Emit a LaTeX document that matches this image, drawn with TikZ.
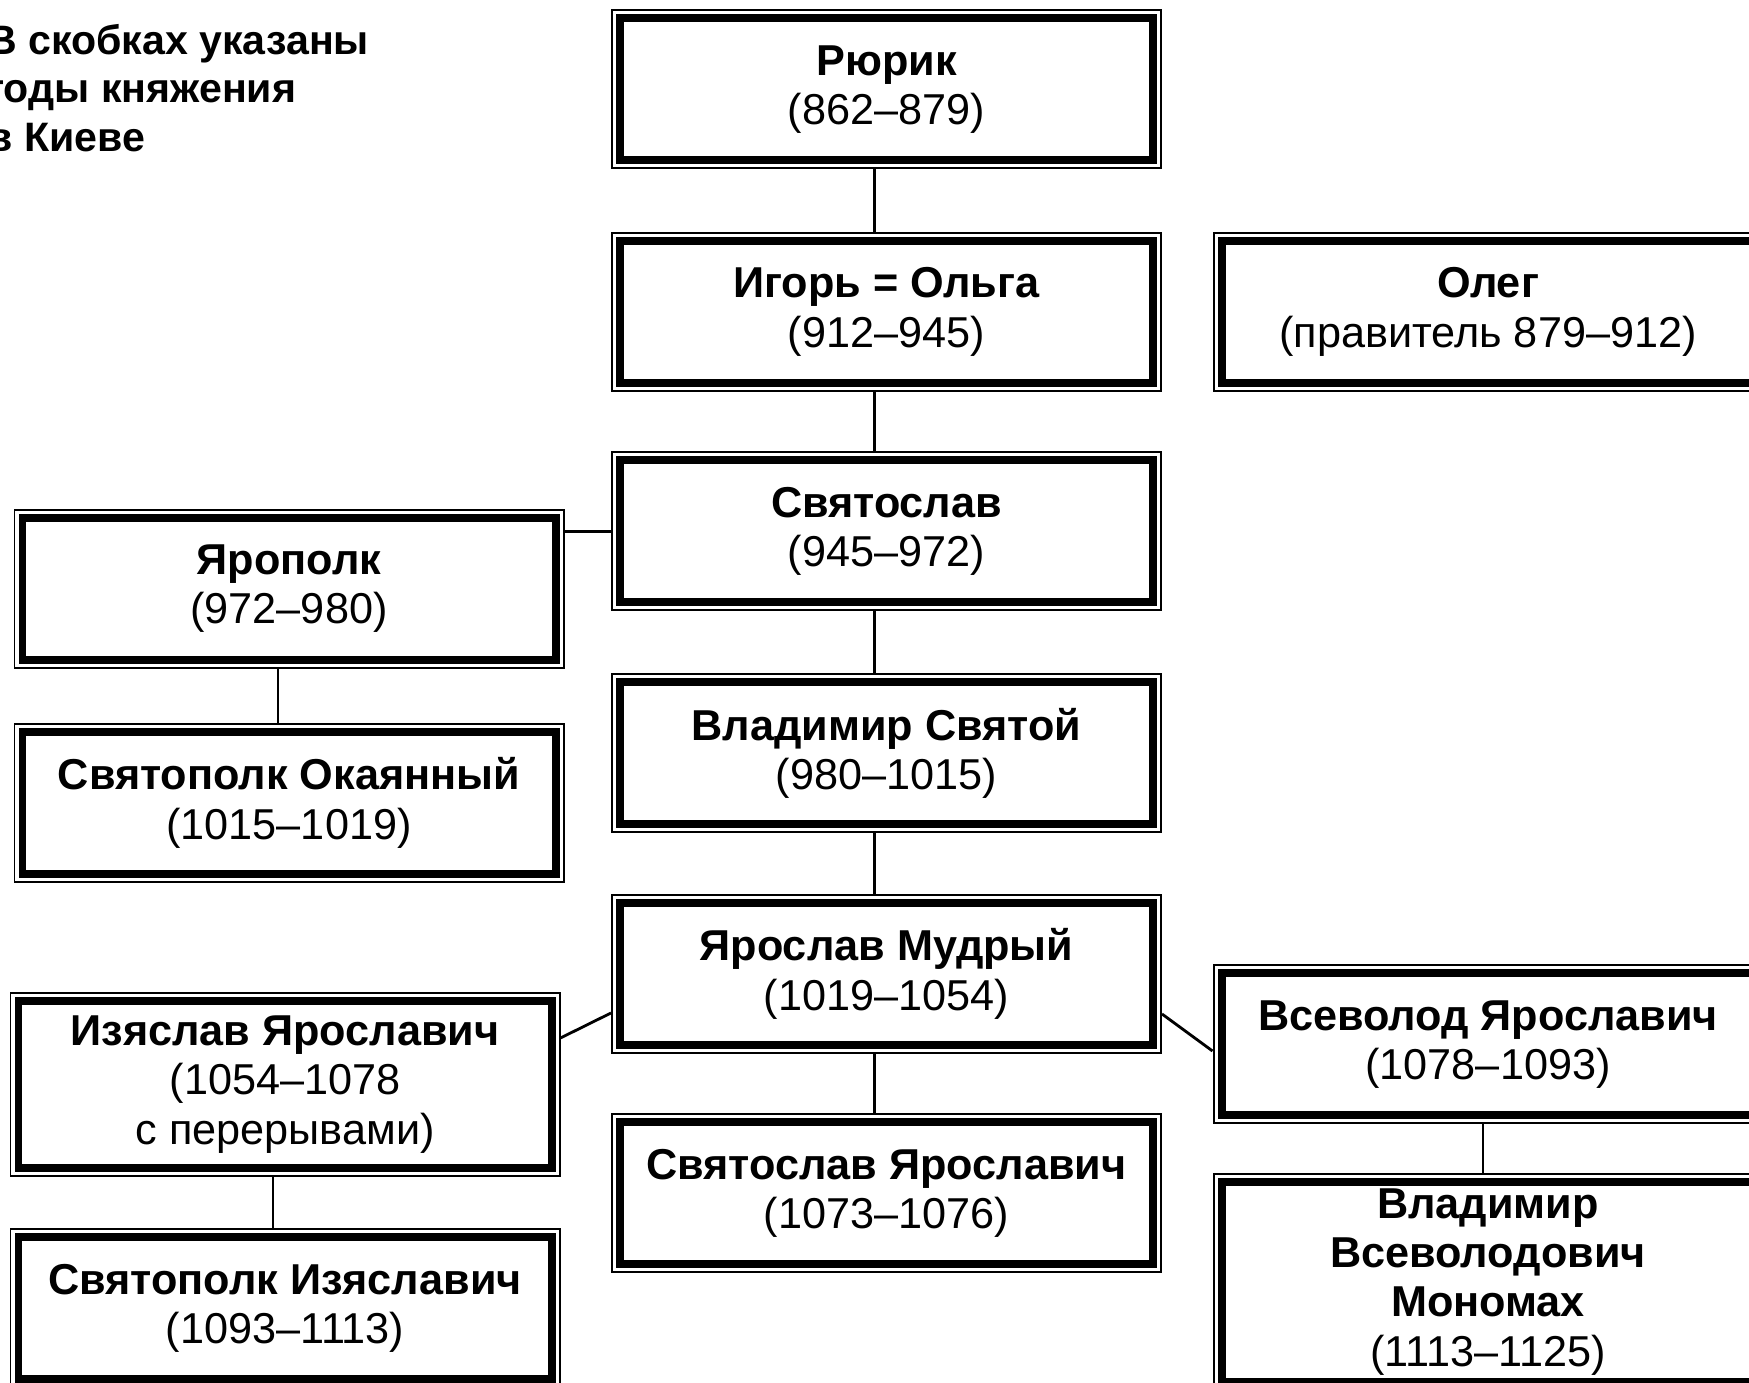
\documentclass[tikz,border=0pt]{standalone}
\usepackage{fontspec}
\setmainfont{Liberation Sans}

\tikzset{
	prince/.style={draw, fill=white, line width=4.55pt, outer sep=0.18cm, inner sep=0pt,
		minimum width=10.66cm, minimum height=2.84cm, align=center,
		font=\fontsize{24.6}{28}\selectfont,
		preaction={draw, line width=10.24pt},
		preaction={draw, white, line width=7.97pt}},
	link/.style={line width=1.6pt}
}

\begin{document}
\begin{tikzpicture}
		\useasboundingbox (0, 0) rectangle (34.98, 27.66);
		
		\node[anchor=north west, align=left, inner sep=0pt, font=\bfseries\fontsize{23.4}{27.6}\selectfont] (note) at (-0.26, 27.18) {В скобках указаны\\годы княжения\\в Киеве};
		
		\node[prince] (rurik) at (17.73, 25.87) {\textbf{Рюрик}\\(862–879)};
		\node[prince] (igor) at (17.73, 21.42) {\textbf{Игорь = Ольга}\\(912–945)};
		\node[prince] (oleg) at (29.76, 21.42) {\textbf{Олег}\\(правитель 879–912)};
		\node[prince] (svyatoslav) at (17.73, 17.03) {\textbf{Святослав}\\(945–972)};
		\node[prince] (yaropolk) at (5.78, 15.88) {\textbf{Ярополк}\\(972–980)};
		\node[prince] (svyatopolkO) at (5.78, 11.60) {\textbf{Святополк Окаянный}\\(1015–1019)};
		\node[prince] (vladimir) at (17.73, 12.59) {\textbf{Владимир Святой}\\(980–1015)};
		\node[prince] (yaroslav) at (17.73, 8.18) {\textbf{Ярослав Мудрый}\\(1019–1054)};
		\node[prince, minimum height=3.34cm] (izyaslav) at (5.70, 5.97) {\textbf{Изяслав Ярославич}\\(1054–1078\\с перерывами)};
		\node[prince] (vsevolod) at (29.76, 6.77) {\textbf{Всеволод Ярославич}\\(1078–1093)};
		\node[prince] (svyatoslavYa) at (17.73, 3.79) {\textbf{Святослав Ярославич}\\(1073–1076)};
		\node[prince] (svyatopolkI) at (5.70, 1.50) {\textbf{Святополк Изяславич}\\(1093–1113)};
		\node[prince, minimum height=4.0cm] (monomakh) at (29.76, 2.02) {\textbf{Владимир}\\\textbf{Всеволодович}\\\textbf{Мономах}\\(1113–1125)};
		
		\draw[link] ([xshift=-0.24cm]rurik.south) -- ([xshift=-0.24cm]igor.north);
		\draw[link] ([xshift=-0.24cm]igor.south) -- ([xshift=-0.24cm]svyatoslav.north);
		\draw[link] ([xshift=-0.24cm]svyatoslav.south) -- ([xshift=-0.24cm]vladimir.north);
		\draw[link] ([xshift=-0.24cm]vladimir.south) -- ([xshift=-0.24cm]yaroslav.north);
		\draw[link] ([xshift=-0.24cm]yaroslav.south) -- ([xshift=-0.24cm]svyatoslavYa.north);
		\draw[link] (svyatoslav.west) -- (svyatoslav.west -| yaropolk.east);
		\draw[link] ([xshift=-0.22cm]yaropolk.south) -- ([xshift=-0.22cm]svyatopolkO.north);
		\draw[link] ([yshift=-0.78cm]yaroslav.west) -- ([yshift=0.93cm]izyaslav.east);
		\draw[link] ([yshift=-0.80cm]yaroslav.east) -- ([yshift=-0.13cm]vsevolod.west);
		\draw[link] ([xshift=-0.24cm]izyaslav.south) -- ([xshift=-0.24cm]svyatopolkI.north);
		\draw[link] ([xshift=-0.1cm]vsevolod.south) -- ([xshift=-0.1cm]monomakh.north);
	\end{tikzpicture}
\end{document}
